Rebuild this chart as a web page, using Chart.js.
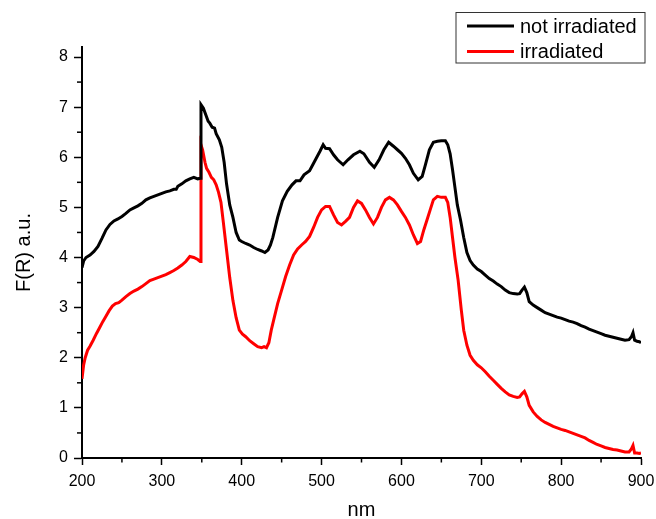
<!DOCTYPE html>
<html>
<head>
<meta charset="utf-8">
<script src="https://cdn.jsdelivr.net/npm/chart.js@4/dist/chart.umd.min.js"></script>
<style>
html,body{margin:0;padding:0;background:#fff;}
#wrap{width:656px;height:519px;}
</style>
</head>
<body>
<div id="wrap"><canvas id="c" width="656" height="519"></canvas></div>
<script>
// ---- data ----
const seriesLabels = ["not irradiated", "irradiated"];

const notIrrNm = [200,202,205,210,215,220,225,230,235,240,245,250,255,260,265,270,275,280,285,290,295,300,305,310,315,318,320,325,330,335,340,345,348,
  349,352,355,358,360,363,366,368,372,375,378,381,385,389,393,397,400,405,410,415,420,425,429,433,436,439,445,451,457,463,468,473,478,485,490,494,498,
  502,505,510,515,520,527,533,540,548,553,560,566,572,578,584,590,595,600,605,610,615,621,626,630,635,640,645,650,655,658,661,664,667,670,674,678,682,
  686,690,695,700,705,710,715,720,725,730,735,740,745,748,751,754,757,760,765,770,775,780,785,790,795,800,805,810,815,820,825,830,835,840,845,850,855,
  860,865,870,875,880,885,888,890,892,895,898,900];
const notIrrVals = [3.80,3.93,4.00,4.05,4.12,4.22,4.38,4.55,4.66,4.73,4.77,4.82,4.88,4.95,4.99,5.03,5.08,5.15,5.19,5.22,5.25,5.28,5.31,5.33,5.36,5.36,5.42,5.47,5.53,5.57,5.60,5.57,5.58,
  7.05,6.98,6.85,6.72,6.68,6.60,6.58,6.47,6.35,6.20,5.90,5.47,5.05,4.80,4.50,4.35,4.32,4.28,4.25,4.20,4.16,4.13,4.10,4.15,4.25,4.40,4.80,5.13,5.32,5.45,5.53,5.53,5.65,5.73,5.88,6.00,6.12,
  6.25,6.18,6.17,6.05,5.95,5.85,5.95,6.05,6.12,6.07,5.90,5.80,5.95,6.15,6.30,6.22,6.15,6.08,5.98,5.85,5.68,5.55,5.62,5.85,6.15,6.30,6.32,6.33,6.33,6.25,6.07,5.75,5.40,5.05,4.75,4.40,4.10,
  3.94,3.85,3.77,3.72,3.65,3.58,3.53,3.47,3.42,3.35,3.30,3.28,3.27,3.28,3.35,3.41,3.30,3.12,3.05,3.00,2.95,2.90,2.87,2.84,2.81,2.79,2.76,2.73,2.71,2.68,2.64,2.61,2.57,2.54,2.51,2.48,2.45,
  2.43,2.41,2.39,2.37,2.35,2.36,2.42,2.50,2.35,2.33,2.32,2.30];

const irrNm = [200,202,204,207,210,214,218,222,226,230,234,238,242,246,250,255,260,265,270,275,280,285,290,295,300,305,310,315,320,325,330,335,340,345,348,
  349,351,354,356,359,362,365,368,371,374,377,381,385,389,393,397,401,405,410,415,420,425,428,431,434,437,440,445,450,455,460,465,470,475,480,485,490,495,
  500,505,510,515,520,525,530,535,540,545,550,555,560,565,570,575,580,585,590,595,600,605,610,615,620,624,628,632,636,640,645,650,655,658,661,664,667,671,
  675,678,682,686,690,695,700,705,710,715,720,725,730,735,740,745,748,751,754,757,760,765,770,775,780,785,790,795,800,805,810,815,820,825,830,835,840,845,
  850,855,860,865,870,875,880,885,888,890,892,895,898,900];
const irrVals = [1.58,1.85,2.00,2.15,2.23,2.35,2.48,2.60,2.72,2.83,2.94,3.03,3.08,3.10,3.15,3.22,3.28,3.33,3.37,3.42,3.48,3.54,3.57,3.60,3.63,3.66,3.70,3.74,3.79,3.85,3.92,4.02,4.00,3.96,3.92,
  6.25,6.15,5.90,5.78,5.70,5.60,5.55,5.45,5.30,5.10,4.70,4.15,3.60,3.14,2.80,2.55,2.47,2.42,2.34,2.28,2.22,2.20,2.22,2.20,2.30,2.55,2.75,3.08,3.35,3.62,3.85,4.05,4.17,4.25,4.32,4.42,4.60,4.80,
  4.95,5.02,5.02,4.85,4.70,4.65,4.72,4.80,5.00,5.13,5.08,4.95,4.80,4.67,4.80,5.00,5.15,5.20,5.15,5.05,4.92,4.80,4.65,4.45,4.28,4.32,4.55,4.75,4.95,5.15,5.22,5.20,5.20,5.10,4.80,4.40,4.00,3.55,
  2.95,2.55,2.25,2.05,1.95,1.86,1.80,1.72,1.63,1.55,1.47,1.39,1.32,1.26,1.23,1.21,1.22,1.28,1.33,1.22,1.05,0.92,0.83,0.76,0.71,0.67,0.63,0.60,0.57,0.55,0.52,0.49,0.46,0.43,0.40,0.35,0.31,0.27,
  0.24,0.21,0.19,0.17,0.16,0.14,0.12,0.12,0.18,0.25,0.10,0.10,0.09,0.10];

const xTickValues = [200,300,400,500,600,700,800,900];
const xMinorValues = [250,350,450,550,650,750,850];
const yTickValues = [0,1,2,3,4,5,6,7,8];
const yMinorValues = [0.5,1.5,2.5,3.5,4.5,5.5,6.5,7.5];
const xTitle = "nm";
const yTitle = "F(R) a.u.";

// ---- chart ----
const FONT = "'Liberation Sans', Arial, sans-serif";
const colors = ["#000000", "#ff0000"];

function toPoints(xs, ys){ return xs.map((x,i)=>({x:x, y:ys[i]})); }

const minorTicks = {
  id: 'minorTicks',
  afterDraw(chart){
    const ctx = chart.ctx;
    const xs = chart.scales.x, ys = chart.scales.y;
    ctx.save();
    ctx.strokeStyle = '#000';
    ctx.lineWidth = 1.5;
    xMinorValues.forEach(v=>{
      const px = xs.getPixelForValue(v);
      ctx.beginPath(); ctx.moveTo(px, xs.top); ctx.lineTo(px, xs.top+4.5); ctx.stroke();
    });
    yMinorValues.forEach(v=>{
      const py = ys.getPixelForValue(v);
      ctx.beginPath(); ctx.moveTo(ys.right, py); ctx.lineTo(ys.right-5, py); ctx.stroke();
    });
    ctx.restore();
  }
};

const boxLegend = {
  id: 'boxLegend',
  afterDraw(chart){
    const ctx = chart.ctx;
    const x0 = 456, y0 = 12.5, w = 189, h = 50.5;
    ctx.save();
    ctx.fillStyle = '#fff';
    ctx.fillRect(x0, y0, w, h);
    ctx.strokeStyle = '#333';
    ctx.lineWidth = 1;
    ctx.strokeRect(x0, y0, w, h);
    ctx.font = "20px " + FONT;
    ctx.textBaseline = 'middle';
    ctx.textAlign = 'left';
    chart.data.datasets.forEach((ds,i)=>{
      const cy = y0 + 13.5 + i*25.5;
      ctx.strokeStyle = ds.borderColor;
      ctx.lineWidth = 3;
      ctx.beginPath(); ctx.moveTo(x0+11, cy); ctx.lineTo(x0+58, cy); ctx.stroke();
      ctx.fillStyle = '#000';
      ctx.fillText(ds.label, x0+64, cy+1);
    });
    ctx.restore();
  }
};

new Chart(document.getElementById('c'), {
  type: 'line',
  data: {
    datasets: [
      {label: seriesLabels[0], data: toPoints(notIrrNm, notIrrVals), borderColor: colors[0], backgroundColor: colors[0], borderWidth: 3, pointRadius: 0, tension: 0, fill: false},
      {label: seriesLabels[1], data: toPoints(irrNm, irrVals), borderColor: colors[1], backgroundColor: colors[1], borderWidth: 3, pointRadius: 0, tension: 0, fill: false}
    ]
  },
  options: {
    responsive: false,
    animation: false,
    devicePixelRatio: 1,
    layout: {padding: {left: 0, right: 15, top: 47, bottom: 0}},
    plugins: {legend: {display: false}, tooltip: {enabled: false}},
    scales: {
      x: {
        type: 'linear', min: 200, max: 900,
        afterBuildTicks: s => { s.ticks = xTickValues.map(v=>({value:v})); },
        afterFit: s => { s.height = 61; s.paddingLeft = 0; s.paddingRight = 0; },
        grid: {display: true, drawOnChartArea: false, drawTicks: true, tickLength: 7, tickColor: '#000', tickWidth: 1.5},
        border: {display: true, color: '#000', width: 2},
        ticks: {color: '#000', font: {family: FONT, size: 16}, padding: 7, maxRotation: 0},
        title: {display: true, text: xTitle, color: '#000', font: {family: FONT, size: 20, lineHeight: 0.9}, padding: {top: 0, bottom: 0}}
      },
      y: {
        type: 'linear', min: 0, max: 8.2,
        afterBuildTicks: s => { s.ticks = yTickValues.map(v=>({value:v})); },
        afterFit: s => { s.width = 82; s.paddingTop = 0; s.paddingBottom = 0; },
        grid: {display: true, drawOnChartArea: false, drawTicks: true, tickLength: 8, tickColor: '#000', tickWidth: 1.5},
        border: {display: true, color: '#000', width: 2},
        ticks: {color: '#000', font: {family: FONT, size: 16}, padding: 6},
        title: {display: true, text: yTitle, color: '#000', font: {family: FONT, size: 20}, padding: {top: 12, bottom: 0}}
      }
    }
  },
  plugins: [minorTicks, boxLegend]
});
</script>
</body>
</html>
